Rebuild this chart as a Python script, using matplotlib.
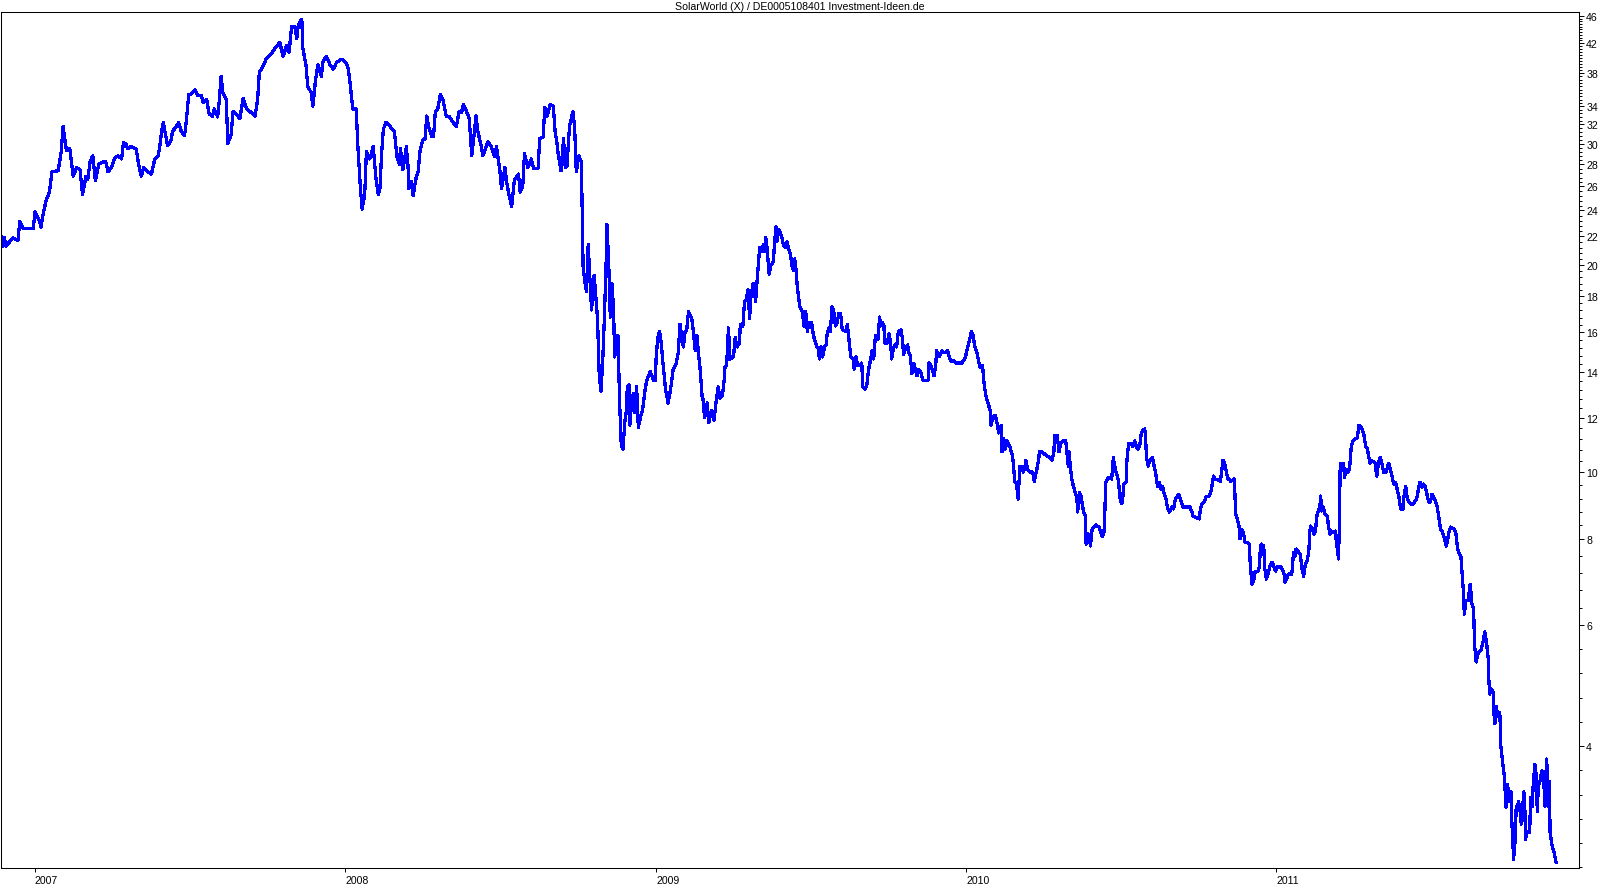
import matplotlib
matplotlib.use('Agg')
import matplotlib.pyplot as plt
import matplotlib.ticker as mticker
import pandas as pd
import numpy as np

plt.rcParams['font.family'] = ['Liberation Sans', 'DejaVu Sans']

title = 'SolarWorld (X) / DE0005108401 Investment-Ideen.de'

# closing prices in EUR, keyed by day of year
days_2006 = [326, 328, 330, 332, 340, 346, 348, 352, 364]
close_2006 = [22.0, 21.3, 21.9, 21.3, 21.9, 21.7, 23.1, 22.6, 22.6]

days_2007 = [1, 6, 8, 10, 14, 18, 21, 28, 30, 32,
             34, 36, 38, 42, 46, 50, 54, 57, 61, 63,
             66, 69, 72, 76, 81, 84, 87, 91, 95, 99,
             103, 105, 108, 110, 114, 120, 123, 126, 129, 132,
             138, 142, 146, 148, 150, 152, 154, 157, 161, 163,
             167, 170, 173, 177, 179, 182, 185, 189, 193, 197,
             199, 203, 206, 210, 212, 216, 218, 220, 222, 226,
             228, 232, 234, 238, 242, 246, 250, 254, 260, 263,
             265, 269, 273, 279, 283, 289, 293, 297, 300, 303,
             307, 309, 311, 315, 316, 320, 322, 326, 328, 331,
             334, 338, 340, 344, 348, 352, 356, 362]
close_2007 = [23.9, 23.2, 22.7, 23.5, 24.8, 25.5, 27.3, 27.4, 28.2, 29.3,
              31.8, 30.5, 29.3, 29.5, 26.9, 27.7, 27.5, 25.3, 26.9, 26.6,
              28.3, 28.8, 26.5, 28.0, 28.2, 28.3, 27.3, 27.7, 28.6, 28.8,
              28.5, 30.1, 30.0, 29.5, 29.7, 29.5, 28.0, 26.9, 27.7, 27.4,
              27.1, 28.5, 28.8, 29.8, 31.3, 32.2, 31.2, 29.8, 30.3, 31.3,
              31.7, 32.2, 31.3, 30.8, 32.3, 35.4, 35.4, 35.9, 35.2, 35.2,
              34.4, 34.8, 33.1, 32.9, 33.7, 32.8, 34.8, 37.6, 35.6, 34.8,
              30.0, 31.0, 33.4, 33.1, 32.6, 34.9, 33.7, 33.4, 32.9, 34.8,
              38.1, 38.8, 39.8, 40.5, 41.2, 42.1, 40.2, 41.6, 40.7, 44.4,
              44.3, 42.6, 44.7, 45.5, 41.4, 38.9, 36.3, 35.6, 34.0, 37.0,
              39.1, 37.6, 39.5, 40.2, 39.1, 38.5, 39.4, 39.8]

days_2008 = [1, 4, 6, 10, 14, 16, 19, 21, 24, 26,
             30, 34, 37, 40, 42, 44, 46, 49, 54, 56,
             59, 62, 65, 66, 69, 71, 73, 75, 76, 79,
             81, 84, 87, 89, 92, 95, 97, 99, 103, 105,
             107, 110, 113, 116, 120, 124, 128, 132, 135, 138,
             140, 144, 147, 150, 152, 155, 157, 161, 163, 167,
             169, 173, 177, 179, 183, 185, 189, 191, 194, 197,
             200, 203, 205, 207, 210, 212, 216, 220, 223, 228,
             230, 234, 236, 239, 242, 246, 248, 250, 252, 255,
             258, 260, 262, 265, 267, 269, 271, 273, 276, 279,
             280, 281, 283, 285, 287, 289, 291, 294, 296, 298,
             300, 302, 304, 306, 308, 309, 311, 313, 315, 317,
             318, 321, 322, 324, 326, 328, 330, 332, 333, 335,
             336, 338, 340, 342, 344, 346, 349, 351, 354, 356,
             360, 364, 366]
close_2008 = [39.4, 38.9, 37.5, 33.7, 33.7, 29.7, 25.8, 24.1, 25.3, 29.2,
              28.5, 29.7, 26.9, 25.3, 25.9, 29.2, 31.5, 32.2, 31.8, 31.5,
              31.2, 28.7, 28.0, 29.5, 27.5, 28.5, 29.7, 27.8, 25.8, 26.4,
              25.2, 26.6, 27.4, 29.2, 30.3, 30.5, 32.9, 31.8, 30.7, 30.7,
              33.3, 33.7, 35.4, 34.8, 32.9, 32.8, 32.2, 31.8, 33.4, 33.3,
              34.2, 33.4, 32.6, 28.8, 30.3, 32.9, 31.3, 29.8, 28.8, 29.7,
              30.2, 29.7, 28.7, 29.7, 27.5, 25.8, 27.7, 26.4, 25.2, 24.3,
              26.5, 26.9, 27.1, 25.5, 26.0, 29.0, 27.7, 28.5, 27.6, 27.6,
              30.5, 30.7, 33.9, 32.9, 34.2, 34.0, 31.3, 30.2, 28.8, 27.4,
              30.5, 27.7, 27.8, 31.8, 32.6, 33.4, 31.8, 27.3, 28.8, 28.2,
              23.9, 19.9, 18.9, 18.3, 21.4, 19.1, 17.2, 19.3, 18.0, 16.7,
              13.8, 13.1, 14.4, 16.7, 19.9, 22.9, 20.4, 16.8, 18.8, 17.1,
              14.7, 15.4, 15.8, 12.6, 10.9, 10.8, 11.8, 12.3, 13.3, 13.4,
              11.7, 12.6, 13.0, 12.2, 13.3, 11.6, 12.1, 12.3, 13.2, 13.6,
              14.0, 13.6, 13.6]

days_2009 = [1, 3, 5, 7, 9, 12, 15, 18, 21, 24,
             27, 29, 31, 33, 35, 37, 39, 43, 45, 47,
             49, 51, 53, 55, 56, 58, 61, 63, 66, 69,
             72, 74, 76, 79, 81, 82, 84, 86, 88, 92,
             94, 96, 99, 100, 103, 105, 107, 109, 111, 112,
             115, 116, 118, 120, 122, 123, 125, 127, 129, 130,
             132, 133, 134, 136, 139, 140, 142, 143, 145, 147,
             149, 151, 153, 155, 157, 159, 161, 163, 164, 166,
             167, 170, 173, 175, 177, 179, 180, 182, 184, 186,
             190, 192, 193, 195, 197, 199, 201, 202, 204, 206,
             208, 210, 212, 214, 216, 218, 220, 224, 226, 228,
             230, 233, 234, 236, 238, 241, 243, 244, 247, 249,
             251, 253, 255, 257, 259, 262, 264, 265, 267, 269,
             270, 273, 275, 277, 278, 280, 282, 284, 286, 289,
             291, 292, 295, 297, 298, 300, 302, 304, 306, 308,
             310, 312, 315, 318, 321, 322, 324, 326, 328, 330,
             331, 334, 337, 340, 344, 346, 348, 352, 354, 356,
             361, 365]
close_2009 = [14.7, 15.7, 16.0, 15.4, 14.4, 13.2, 12.6, 13.2, 14.1, 14.3,
              14.9, 16.4, 15.8, 15.2, 16.0, 16.1, 17.1, 16.7, 15.9, 15.0,
              15.8, 14.8, 14.0, 12.9, 12.8, 12.0, 12.6, 11.8, 12.3, 11.9,
              12.8, 13.3, 12.8, 12.9, 13.6, 14.2, 14.3, 16.2, 14.6, 14.7,
              15.7, 15.2, 15.4, 16.4, 16.3, 17.7, 17.8, 18.4, 16.7, 17.8,
              18.8, 18.6, 17.7, 19.1, 20.6, 21.2, 20.9, 21.4, 20.9, 21.9,
              20.9, 20.0, 19.4, 20.0, 20.2, 21.3, 22.7, 21.6, 22.5, 22.3,
              21.9, 21.3, 21.2, 21.6, 21.1, 20.7, 19.9, 19.6, 20.4, 19.5,
              18.6, 17.4, 17.1, 16.3, 17.1, 16.0, 16.5, 16.2, 16.5, 15.8,
              15.2, 15.1, 14.6, 15.2, 14.7, 15.2, 15.3, 15.8, 16.2, 16.0,
              17.4, 17.1, 16.3, 16.5, 17.0, 17.0, 16.1, 16.0, 16.4, 15.5,
              14.7, 14.6, 14.1, 14.7, 14.3, 14.3, 14.4, 13.3, 13.2, 13.4,
              14.1, 14.5, 15.0, 14.6, 15.8, 15.6, 16.8, 16.3, 16.5, 16.3,
              15.4, 15.4, 15.9, 15.4, 14.6, 15.1, 15.3, 15.2, 16.0, 16.1,
              15.6, 14.8, 15.2, 15.3, 14.9, 14.8, 13.9, 14.4, 14.1, 13.8,
              14.1, 14.0, 13.6, 13.6, 13.6, 14.4, 14.3, 14.1, 13.8, 14.3,
              15.0, 14.7, 15.0, 14.9, 15.0, 14.7, 14.5, 14.5, 14.4, 14.4,
              14.4, 14.7]

days_2010 = [2, 5, 7, 9, 11, 13, 17, 20, 22, 24,
             29, 30, 32, 35, 37, 39, 41, 42, 43, 45,
             47, 49, 52, 55, 56, 58, 60, 62, 63, 64,
             67, 68, 70, 71, 73, 76, 79, 81, 84, 86,
             87, 90, 94, 99, 102, 104, 105, 108, 110, 112,
             115, 118, 120, 121, 122, 123, 125, 127, 129, 131,
             132, 134, 136, 137, 139, 141, 142, 144, 146, 147,
             149, 151, 153, 157, 159, 161, 163, 164, 165, 167,
             169, 172, 173, 174, 175, 177, 179, 180, 182, 184,
             185, 186, 189, 190, 192, 194, 197, 199, 201, 203,
             205, 207, 209, 211, 212, 213, 215, 217, 220, 222,
             224, 226, 228, 230, 232, 234, 236, 238, 240, 243,
             245, 247, 251, 253, 256, 261, 264, 266, 268, 271,
             275, 276, 278, 281, 283, 287, 289, 291, 292, 294,
             300, 301, 303, 305, 307, 309, 311, 312, 316, 317,
             318, 320, 322, 323, 325, 327, 329, 331, 334, 335,
             337, 339, 341, 344, 346, 347, 348, 351, 352, 354,
             356, 359, 361, 363, 365]
close_2010 = [15.1, 15.6, 16.0, 15.8, 15.2, 15.0, 14.2, 14.3, 13.4, 12.9,
              12.3, 11.7, 12.0, 12.1, 11.8, 11.4, 11.5, 11.7, 10.7, 11.2,
              10.8, 11.1, 10.9, 10.6, 10.4, 9.70, 9.61, 9.14, 9.67, 10.2,
              10.2, 10.0, 10.2, 10.4, 10.1, 10.0, 10.0, 9.70, 10.1, 10.4,
              10.7, 10.7, 10.6, 10.5, 10.4, 10.7, 11.3, 11.3, 10.7, 11.0,
              11.1, 11.1, 10.5, 10.2, 10.7, 10.3, 9.77, 9.54, 9.35, 9.20,
              8.75, 9.35, 9.23, 9.05, 8.75, 8.63, 7.86, 8.13, 7.99, 7.81,
              8.26, 8.32, 8.38, 8.32, 8.18, 8.05, 8.18, 8.75, 9.67, 9.77,
              9.83, 9.77, 10.1, 10.5, 10.3, 10.0, 9.83, 9.70, 9.14, 8.99,
              9.08, 9.61, 9.67, 10.4, 11.0, 11.0, 10.9, 11.1, 10.9, 10.8,
              10.9, 11.4, 11.5, 11.55, 11.2, 10.5, 10.2, 10.4, 10.5, 10.2,
              9.93, 9.54, 9.67, 9.45, 9.54, 9.29, 9.14, 8.84, 8.75, 8.90,
              8.84, 9.14, 9.29, 9.14, 8.90, 8.90, 8.90, 8.78, 8.63, 8.60,
              8.55, 8.75, 8.99, 9.05, 9.20, 9.23, 9.38, 9.70, 9.87, 9.77,
              9.70, 9.93, 10.4, 10.3, 10.0, 9.77, 9.77, 9.70, 9.77, 9.35,
              8.69, 8.55, 8.32, 8.00, 8.26, 8.18, 7.91, 7.91, 7.86, 7.40,
              6.87, 6.94, 7.18, 7.18, 7.28, 7.78, 7.86, 7.81, 7.28, 6.99,
              7.11, 7.35, 7.40, 7.28, 7.18]

days_2011 = [1, 6, 9, 10, 11, 13, 15, 19, 20, 21,
             23, 24, 27, 29, 31, 33, 35, 37, 39, 40,
             41, 44, 45, 47, 48, 49, 52, 53, 54, 56,
             58, 61, 62, 64, 66, 68, 70, 71, 73, 74,
             75, 76, 78, 80, 81, 83, 85, 87, 89, 91,
             94, 96, 98, 102, 104, 106, 108, 111, 113, 117,
             119, 121, 123, 125, 127, 130, 133, 135, 139, 141,
             143, 145, 147, 150, 151, 153, 155, 157, 159, 162,
             166, 168, 170, 172, 174, 176, 178, 180, 182, 184,
             186, 188, 190, 192, 194, 196, 198, 201, 204, 206,
             210, 212, 213, 215, 218, 220, 221, 222, 224, 227,
             228, 229, 231, 233, 234, 236, 238, 240, 242, 244,
             246, 248, 250, 251, 252, 254, 256, 257, 258, 260,
             261, 263, 264, 265, 267, 269, 270, 271, 273, 275,
             277, 278, 279, 280, 282, 283, 284, 286, 288, 289,
             290, 292, 293, 294, 296, 299, 300, 302, 303, 305,
             306, 308, 309, 311, 313, 315, 317, 318, 319, 321,
             322, 323, 325, 327, 328, 330]
close_2011 = [7.28, 7.28, 7.18, 7.11, 6.92, 6.99, 7.11, 7.11, 7.35, 7.65,
              7.55, 7.73, 7.65, 7.60, 7.23, 7.06, 7.35, 7.43, 7.65, 8.13,
              8.35, 8.26, 8.13, 8.21, 8.55, 8.69, 8.90, 9.23, 8.78, 8.90,
              8.69, 8.63, 8.35, 8.13, 8.21, 8.18, 8.21, 8.00, 7.68, 7.48,
              8.40, 10.3, 10.2, 10.3, 9.83, 10.1, 10.0, 10.1, 10.9, 11.1,
              11.2, 11.2, 11.7, 11.55, 11.3, 10.9, 10.8, 10.3, 10.4, 10.3,
              9.87, 10.3, 10.5, 10.3, 10.0, 10.0, 10.3, 10.1, 9.61, 9.67,
              9.45, 9.23, 8.84, 8.84, 9.23, 9.54, 9.14, 9.05, 8.99, 8.99,
              9.14, 9.45, 9.67, 9.51, 9.61, 9.54, 9.29, 9.05, 9.05, 9.29,
              9.20, 9.08, 8.92, 8.60, 8.27, 8.21, 8.05, 7.81, 8.18, 8.32,
              8.26, 8.18, 7.94, 7.65, 7.55, 6.99, 6.70, 6.22, 6.50, 6.50,
              6.76, 6.87, 6.43, 6.32, 5.63, 5.30, 5.44, 5.49, 5.53, 5.66,
              5.86, 5.68, 5.39, 4.96, 4.76, 4.84, 4.79, 4.45, 4.31, 4.56,
              4.42, 4.48, 4.42, 4.00, 3.80, 3.62, 3.46, 3.26, 3.52, 3.32,
              3.43, 3.10, 2.93, 2.74, 2.93, 3.24, 3.27, 3.32, 3.19, 3.08,
              3.17, 3.43, 3.38, 2.93, 3.00, 3.00, 3.37, 3.27, 3.49, 3.76,
              3.73, 3.21, 3.49, 3.55, 3.68, 3.67, 3.27, 3.55, 3.83, 3.27,
              3.55, 3.00, 2.88, 2.82, 2.79, 2.71]

year_labels = ['2007', '2008', '2009', '2010', '2011']
price_ticks = [4, 6, 8, 10, 12, 14, 16, 18, 20, 22, 24, 26, 28, 30, 32, 34, 38, 42, 46]


def year_series(year, days, close):
    start = pd.Timestamp(f'{year}-01-01')
    idx = start + pd.to_timedelta(np.array(days) - 1, unit='D')
    return pd.Series(close, index=idx)


prices = pd.concat([
    year_series(2006, days_2006, close_2006),
    year_series(2007, days_2007, close_2007),
    year_series(2008, days_2008, close_2008),
    year_series(2009, days_2009, close_2009),
    year_series(2010, days_2010, close_2010),
    year_series(2011, days_2011, close_2011),
])

fig = plt.figure(figsize=(15.99, 8.87), dpi=100)
ax = fig.add_axes([1 / 1599, 18 / 887, 1578 / 1599, 856 / 887])

ax.plot(prices.index, prices.values, color='#0000ff', lw=1.6, antialiased=False)

ax.set_yscale('log')
ax.set_ylim(2.66, 46.6)
ax.set_xlim(pd.Timestamp('2006-11-22'), pd.Timestamp('2011-12-23'))

# minor ticks: each labelled step split in 0.4 steps, below 4 keep the same spacing
minor = []
for a, b in zip(price_ticks[:-1], price_ticks[1:]):
    n = int(round((b - a) / 0.4))
    minor += [a * (b / a) ** (k / n) for k in range(1, n)]
minor += [4 * (4 / 6) ** (k / 5) for k in range(1, 6)]

ax.yaxis.tick_right()
ax.set_yticks(price_ticks)
ax.set_yticklabels([str(t) for t in price_ticks])
ax.set_yticks(minor, minor=True)
ax.yaxis.set_minor_formatter(mticker.NullFormatter())

ax.set_xticks([pd.Timestamp(f'{y}-01-01') for y in year_labels])
ax.set_xticklabels(year_labels, ha='left')
ax.xaxis.set_minor_locator(mticker.NullLocator())

ax.tick_params(axis='y', which='major', direction='out', length=3.6, width=0.7,
               pad=1.5, labelsize=7.6, colors='black')
ax.tick_params(axis='y', which='minor', direction='out', length=2.0, width=0.7)
ax.tick_params(axis='x', which='major', direction='out', length=3.0, width=0.7,
               pad=2.0, labelsize=7.6)

for side in ax.spines.values():
    side.set_linewidth(0.75)
    side.set_color('black')

fig.text(0.5, 1 - 6.5 / 887, title, ha='center', va='center', fontsize=7.6)

fig.savefig('out.png', dpi=100)
